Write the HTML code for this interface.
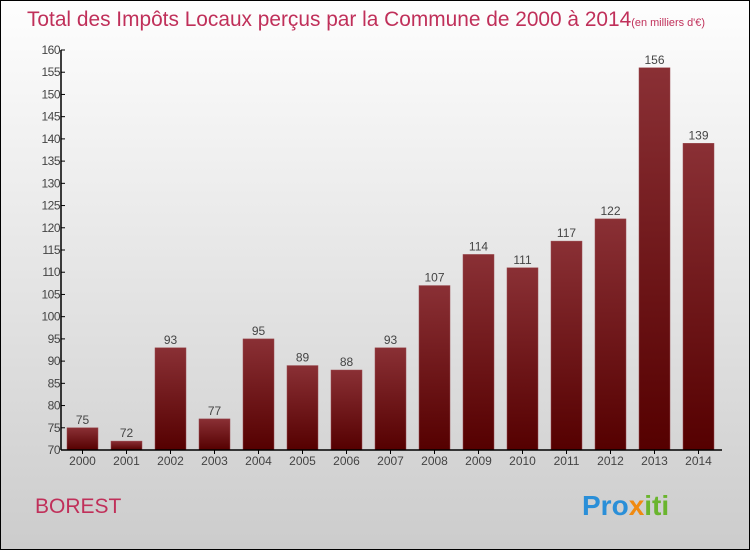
<!DOCTYPE html>
<html><head><meta charset="utf-8"><style>
body{margin:0;width:750px;height:550px;overflow:hidden}
svg{display:block;font-family:"Liberation Sans",sans-serif}
</style></head><body>
<svg id="chart" width="750" height="550" viewBox="0 0 750 550">
<defs>
<linearGradient id="bg" x1="0" y1="0" x2="0" y2="1"><stop offset="0" stop-color="#fefefe"/><stop offset="1" stop-color="#cccccc"/></linearGradient>
<linearGradient id="bar" x1="0" y1="0" x2="0" y2="1"><stop offset="0" stop-color="#8a3035"/><stop offset="1" stop-color="#550000"/></linearGradient>
</defs>
<rect x="0.5" y="0.5" width="749" height="549" fill="url(#bg)" stroke="#000"/>
<text x="27" y="26" font-size="21" fill="#c0305a" textLength="678" lengthAdjust="spacingAndGlyphs">Total des Impôts Locaux perçus par la Commune de 2000 à 2014<tspan font-size="11">(en milliers d'€)</tspan></text>
<g id="yaxis"></g>
<g id="bars"></g>
<g id="xaxis"></g>
<text x="35" y="513" font-size="21" fill="#c0305a">BOREST</text>
<text x="582" y="515" font-size="28" font-weight="bold"><tspan fill="#2a8fd8">Pro</tspan><tspan fill="#f08a10">x</tspan><tspan fill="#6ab52e">iti</tspan></text>
</svg>
<script>
const years=["2000","2001","2002","2003","2004","2005","2006","2007","2008","2009","2010","2011","2012","2013","2014"];
const values=[75,72,93,77,95,89,88,93,107,114,111,117,122,156,139];
const yTicks=[70,75,80,85,90,95,100,105,110,115,120,125,130,135,140,145,150,155,160];
const NS="http://www.w3.org/2000/svg";
const yMin=70,yMax=160,plotTop=50,plotBot=450,axisX=61,x0=82.5,step=44,bw=31;
const Y=v=>plotBot-(v-yMin)/(yMax-yMin)*(plotBot-plotTop);
const X=i=>x0+i*step;
function mk(t,a,p){const e=document.createElementNS(NS,t);for(const k in a)e.setAttribute(k,a[k]);p.appendChild(e);return e;}
const ya=document.getElementById('yaxis'),bg=document.getElementById('bars'),xa=document.getElementById('xaxis');
const yl=mk('line',{x1:axisX,y1:plotTop,x2:axisX,y2:plotBot,stroke:'#000','stroke-width':1.5},ya);


yTicks.forEach(v=>{
 const tk=mk('line',{x1:axisX,y1:Y(v),x2:axisX+4,y2:Y(v),stroke:'#000'},ya);
 
 
 const t=mk('text',{x:axisX-1,y:Y(v)+4,'font-size':12,fill:'#444','text-anchor':'end','letter-spacing':'-0.5'},ya);
 t.textContent=v;
 
 
});
const xl=mk('line',{x1:axisX,y1:plotBot,x2:722,y2:plotBot,stroke:'#000','stroke-width':1.5},xa);


values.forEach((v,i)=>{
 const r=mk('rect',{x:X(i)-bw/2,y:Y(v),width:bw,height:plotBot-Y(v),fill:'url(#bar)',stroke:'#9a4a50','stroke-width':0.5},bg);
 
 
 const t=mk('text',{x:X(i),y:Y(v)-4,'font-size':12,fill:'#444','text-anchor':'middle'},bg);
 t.textContent=v;
 
 
 const tk=mk('line',{x1:X(i),y1:plotBot,x2:X(i),y2:plotBot+4,stroke:'#000'},xa);
 
 
 const l=mk('text',{x:X(i),y:plotBot+15,'font-size':12,fill:'#444','text-anchor':'middle'},xa);
 l.textContent=years[i];
 
 
});
</script>
</body></html>
